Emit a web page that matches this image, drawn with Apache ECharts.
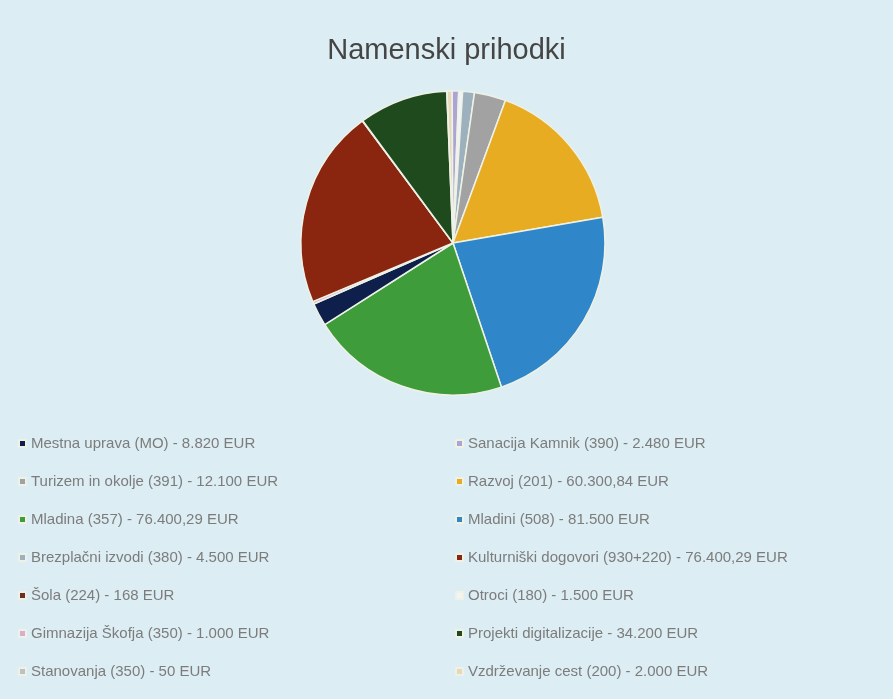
<!DOCTYPE html>
<html>
<head>
<meta charset="utf-8">
<script src="https://cdn.jsdelivr.net/npm/echarts@6/dist/echarts.min.js"></script>
<style>
  html, body { margin: 0; padding: 0; background: #dcedf3; }
  #chart { width: 893px; height: 699px; }
</style>
</head>
<body>
<div id="chart"></div>
<script>
  // podatki (vrstni red = vrstni red rezin v smeri urinega kazalca)
  var names = [
    'Vzdrževanje cest (200)',
    'Sanacija Kamnik (390)',
    'Otroci (180)',
    'Brezplačni izvodi (380)',
    'Turizem in okolje (391)',
    'Razvoj (201)',
    'Mladini (508)',
    'Mladina (357)',
    'Mestna uprava (MO)',
    'Gimnazija Škofja (350)',
    'Kulturniški dogovori (930+220)',
    'Šola (224)',
    'Projekti digitalizacije',
    'Stanovanja (350)'
  ];
  var values = [2000, 2480, 1500, 4500, 12100, 60300.84, 81500, 76400.29, 8820, 1000, 76400.29, 168, 34200, 50];
  var colors = ['#e6d8b8', '#aca4d2', '#f2f4f6', '#9cb0be', '#a2a2a2', '#e8ac22', '#2f86c8',
                '#3f9c3a', '#0d1f4a', '#d8aed0', '#8a2510', '#6a3020', '#1f4a1d', '#c0c0c0'];

  // legenda v dveh stolpcih
  var legendLeft = ['Mestna uprava (MO)', 'Turizem in okolje (391)', 'Mladina (357)', 'Brezplačni izvodi (380)',
                    'Šola (224)', 'Gimnazija Škofja (350)', 'Stanovanja (350)'];
  var legendRight = ['Sanacija Kamnik (390)', 'Razvoj (201)', 'Mladini (508)', 'Kulturniški dogovori (930+220)',
                     'Otroci (180)', 'Projekti digitalizacije', 'Vzdrževanje cest (200)'];

  function fmt(v) {
    var parts = v.toFixed(2).split('.');
    var int = parts[0].replace(/\B(?=(\d{3})+(?!\d))/g, '.');
    return parts[1] === '00' ? int : int + ',' + parts[1];
  }

  var data = [];
  for (var i = 0; i < names.length; i++) {
    data.push({name: names[i], value: values[i], itemStyle: {color: colors[i]}});
  }

  function legendFmt(name) {
    return name + ' - ' + fmt(values[names.indexOf(name)]) + ' EUR';
  }

  var legendBase = {
    orient: 'vertical',
    top: 431,
    itemGap: 23,
    icon: 'rect',
    itemWidth: 7,
    itemHeight: 7,
    textStyle: {color: '#7c7c7c', fontSize: 15, lineHeight: 15, fontFamily: 'Liberation Sans'},
    formatter: legendFmt
  };

  var myChart = echarts.init(document.getElementById('chart'));
  myChart.setOption({
    backgroundColor: '#dcedf3',
    animation: false,
    title: {
      text: 'Namenski prihodki',
      left: 'center',
      top: 31,
      textStyle: {color: '#454545', fontSize: 29, fontWeight: 'normal', fontFamily: 'Liberation Sans'}
    },
    legend: [
      Object.assign({}, legendBase, {left: 13, data: legendLeft}),
      Object.assign({}, legendBase, {left: 450, data: legendRight})
    ],
    series: [{
      name: 'Namenski prihodki',
      type: 'pie',
      center: [453, 243],
      radius: 152,
      startAngle: 92.3,
      label: {show: false},
      labelLine: {show: false},
      itemStyle: {borderColor: '#eef2e6', borderWidth: 1.5},
      data: data
    }]
  });
</script>
</body>
</html>
